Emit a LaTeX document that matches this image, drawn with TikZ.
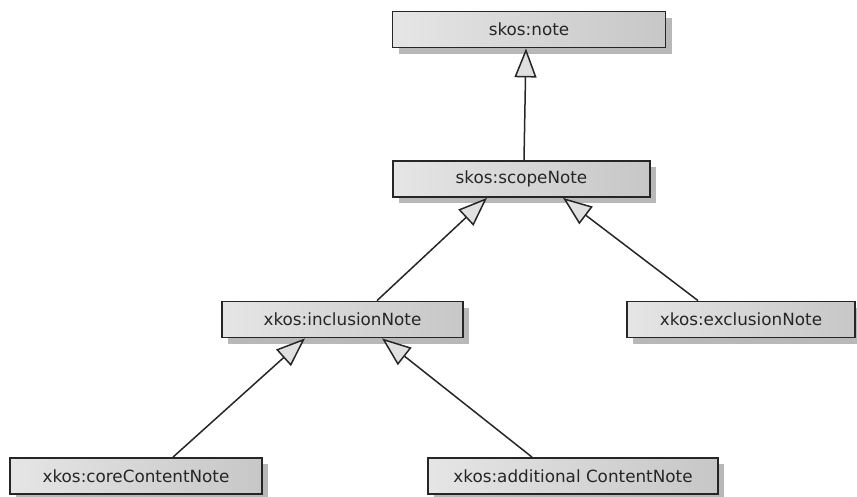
\documentclass[tikz,border=0pt]{standalone}
\usepackage{fontspec}
\setmainfont{DejaVu Sans}
\usepackage{tikz}
\usetikzlibrary{arrows.meta,shadows}
\definecolor{txtgray}{HTML}{262626}
\tikzset{
  cls/.style={draw=black!85, line width=1.8pt, minimum width=#1, minimum height=36pt,
    inner sep=0pt, left color=black!10, right color=black!22, text=txtgray,
    font=\fontsize{16.8}{18}\selectfont,
    drop shadow={shadow xshift=6pt, shadow yshift=-6pt, fill=black!28, opacity=1}},
  gen/.style={draw=black!85, line width=1.5pt,
    -{Triangle[length=29pt, width=22pt, fill=black!12]}}
}
\begin{document}
\begin{tikzpicture}[x=1pt,y=-1pt]
  \clip (0,0) rectangle (857,496);
  \node[cls=273pt] (note) at (529,29.5) {skos:note};
  \node[cls=257pt] (scope) at (521.5,179) {skos:scopeNote};
  \node[cls=241pt] (incl) at (342.5,319.5) {xkos:inclusionNote};
  \node[cls=228pt] (excl) at (741,319.5) {xkos:exclusionNote};
  \node[cls=252pt] (core) at (136,476) {xkos:coreContentNote};
  \node[cls=290pt] (addl) at (573,476) {xkos:additional ContentNote};
  \draw[gen] ([xshift=2.5pt]scope.north) to ([xshift=-3pt]note.south);
  \draw[gen] ([xshift=34.5pt]incl.north) to ([xshift=-34.5pt]scope.south);
  \draw[gen] ([xshift=-43pt]excl.north) to ([xshift=41.5pt]scope.south);
  \draw[gen] ([xshift=37pt]core.north) to ([xshift=-37.5pt]incl.south);
  \draw[gen] ([xshift=-41pt]addl.north) to ([xshift=39.5pt]incl.south);
\end{tikzpicture}
\end{document}
